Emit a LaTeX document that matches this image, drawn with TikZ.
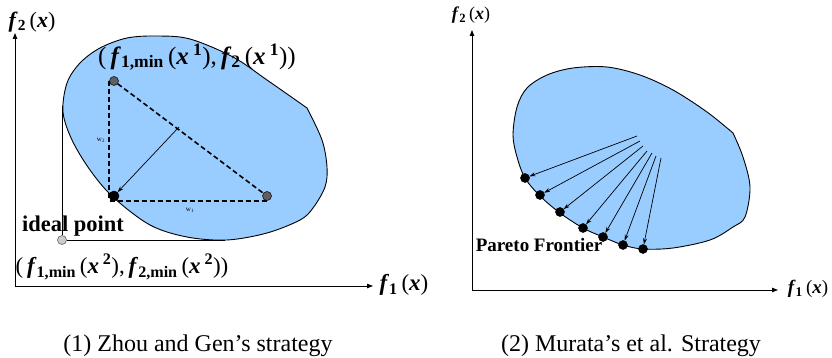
\documentclass[tikz,border=0pt]{standalone}
\usepackage{fontspec}
\setmainfont{Liberation Serif}
\usetikzlibrary{arrows.meta}
\definecolor{blobblue}{RGB}{153,204,255}
\definecolor{dotgray}{RGB}{96,96,96}
\definecolor{idealgray}{RGB}{204,204,204}
\newcommand\myf{\textbf{\textit{f}}}
\newcommand\myx{\textbf{\textit{x}}}
\newcommand\fsz[1]{\fontsize{#1}{#1}\selectfont}
\newcommand\fsub[1]{\textsubscript{\textbf{#1}}\,}
\newcommand\xsup[1]{\,\textsuperscript{\textbf{#1}}}
\begin{document}
\begin{tikzpicture}[x=1pt,y=-1pt,
  axis/.style={line width=0.9pt,-{Triangle[length=6pt,width=4.5pt]}},
  blob/.style={draw=black,line width=0.9pt,fill=blobblue},
  dotnode/.style={circle,draw=black,line width=0.5pt,inner sep=0pt,minimum size=#1},
  ray/.style={line width=0.7pt,-{Stealth[length=6pt,width=4pt]}},
  tri/.style={line width=1.6pt,dash pattern=on 5pt off 3pt},
  thin line/.style={line width=0.8pt},
  lbl/.style={inner sep=0pt,anchor=center}
]
\useasboundingbox (0,0) rectangle (832,358);

% ---------------- left panel ----------------
\coordinate (Lo) at (15,286);
\coordinate (Ly) at (15,33);
\coordinate (Lx) at (373,286);

\draw[blob] plot[smooth,tension=0.55] coordinates {(307,108) (322,140) (327,167) (325,187) (313,208) (300,220) (267,233) (227,240) (187,237) (150,225) (113,197) (90,170) (72,140) (63,112) (67,83) (80,63) (100,48) (127,38) (157,36) (190,39) (233,57) (267,80) (307,108)} -- cycle;

\coordinate (Lleft) at (62,106);
\node[dotnode=9pt,fill=idealgray,draw=black!70] (ideal) at (62,240) {};
\coordinate (Lbottom) at (225,240);
\draw[thin line] (Lleft) -- (ideal) -- (Lbottom);

\draw[axis] (Lo) -- (Ly);
\draw[axis] (Lo) -- (Lx);

\node[dotnode=9pt,fill=dotgray] (ptop) at (114,81) {};
\node[dotnode=9pt,fill=dotgray] (pright) at (267,196) {};
\node[dotnode=10pt,fill=black] (pbest) at (114,196) {};

\draw[tri] (ptop.west) |- (pright.south);
\draw[tri] (ptop) -- (pright);
\coordinate (Lmid) at (179,127);
\draw[ray] (Lmid) -- (pbest);

\node[lbl,font=\fsz{7}] (w2) at (101,140) {w\textsubscript{2}};
\node[lbl,font=\fsz{7}] (w1) at (190,210) {w\textsubscript{1}};

\node[lbl,font=\fsz{22}] (Lf2) at (32,22) {\myf\fsub{2}(\myx)};
\node[lbl,font=\fsz{23}] (Lf1) at (404,285) {\myf\fsub{1}(\myx)};
\node[lbl,font=\fsz{25}] (toplbl) at (197,57) {(\,\myf\fsub{1,min}(\myx\xsup{1}),\,\myf\fsub{2}(\myx\xsup{1}))};
\node[lbl,font=\fsz{22.5}\bfseries] (idealtxt) at (73,226) {ideal point};
\node[lbl,font=\fsz{23}] (botlbl) at (122,267) {(\,\myf\fsub{1,min}(\myx\xsup{2}),\,\myf\fsub{2,min}(\myx\xsup{2}))};

% ---------------- right panel ----------------
\coordinate (Ro) at (472,290);
\coordinate (Ry) at (472,30);
\coordinate (Rx) at (778,290);

\draw[blob] plot[smooth,tension=0.55] coordinates {(733,133) (743,157) (750,187) (745,217) (733,227) (710,240) (673,248) (643,249) (623,245) (603,237) (583,228) (560,213) (540,196) (525,178) (517,157) (513,135) (517,107) (527,88) (547,75) (573,68) (607,67) (640,75) (673,90) (707,112) (733,133)} -- cycle;

\draw[axis] (Ro) -- (Ry);
\draw[axis] (Ro) -- (Rx);

\foreach \i/\px/\py/\sx/\sy in {1/525/178/637/136, 2/540/195/640/141, 3/560/212/643/146, 4/583/228/647/151, 5/603/237/652/153, 6/623/245/656/156, 7/643/249/661/158} {
  \node[dotnode=9pt,fill=black] (p\i) at (\px,\py) {};
  \coordinate (s\i) at (\sx,\sy);
  \draw[ray] (s\i) -- (p\i);
}

\node[lbl,font=\fsz{18}] (Rf2) at (471,15) {\myf\fsub{2}(\myx)};
\node[lbl,font=\fsz{19}] (Rf1) at (808,289) {\myf\fsub{1}(\myx)};
\node[lbl,font=\fsz{19}\bfseries] (pareto) at (539,245) {Pareto Frontier};

% ---------------- captions ----------------
\node[lbl,font=\fsz{24}] (cap1) at (198,346) {(1) Zhou and Gen’s strategy};
\node[lbl,font=\fsz{24}] (cap2) at (631,346) {(2) Murata’s et al. Strategy};
\end{tikzpicture}
\end{document}
